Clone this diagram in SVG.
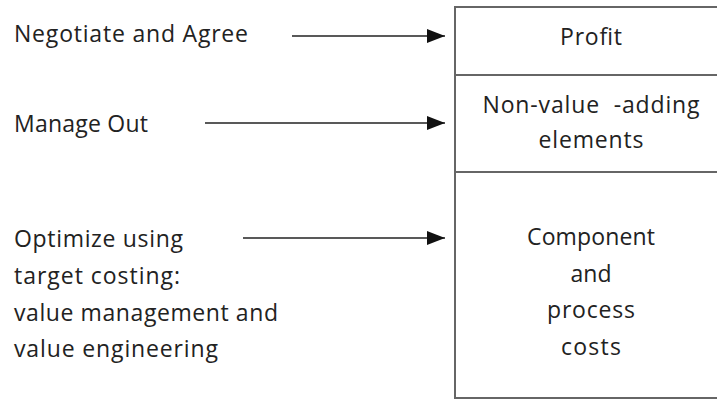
<svg xmlns="http://www.w3.org/2000/svg" width="717" height="402" viewBox="0 0 717 402">
<style>
text{font-family:"Open Sans","Liberation Sans",sans-serif;font-size:23px;fill:#222}
.c{text-anchor:middle}
.box{fill:none;stroke:#666;stroke-width:2}
.conn line{stroke:#222;stroke-width:1.6}
</style>
<defs>
<marker id="ah" markerWidth="18" markerHeight="14" refX="18" refY="7" orient="auto" markerUnits="userSpaceOnUse">
<path d="M0,0 L18,7 L0,14 Z" fill="#111"/>
</marker>
</defs>
<rect width="717" height="402" fill="#fff"/>
<g id="stack">
<rect class="box" x="455" y="7" width="280" height="391"/>
<line class="box" x1="455" y1="75" x2="717" y2="75"/>
<line class="box" x1="455" y1="172" x2="717" y2="172"/>
</g>
<g id="profit"><text class="c" x="591" y="45" textLength="62">Profit</text></g>
<g id="nonvalue">
<text class="c" x="591" y="113" textLength="217" xml:space="preserve">Non-value  -adding</text>
<text class="c" x="591" y="148" textLength="105">elements</text>
</g>
<g id="component">
<text class="c" x="591" y="245" textLength="128">Component</text>
<text class="c" x="591" y="282">and</text>
<text class="c" x="591" y="318" textLength="88">process</text>
<text class="c" x="591" y="355" textLength="60">costs</text>
</g>
<g id="negotiate"><text x="14" y="42" textLength="234">Negotiate and Agree</text></g>
<g id="manage"><text x="14" y="132" textLength="134">Manage Out</text></g>
<g id="optimize">
<text x="14" y="247" textLength="169">Optimize using</text>
<text x="14" y="284" textLength="166">target costing:</text>
<text x="14" y="321" textLength="264">value management and</text>
<text x="14" y="357" textLength="204">value engineering</text>
</g>
<g class="conn" id="connectors">
<line x1="292" y1="36" x2="445" y2="36" marker-end="url(#ah)"/>
<line x1="205" y1="123" x2="445" y2="123" marker-end="url(#ah)"/>
<line x1="243" y1="238" x2="445" y2="238" marker-end="url(#ah)"/>
</g>
</svg>
